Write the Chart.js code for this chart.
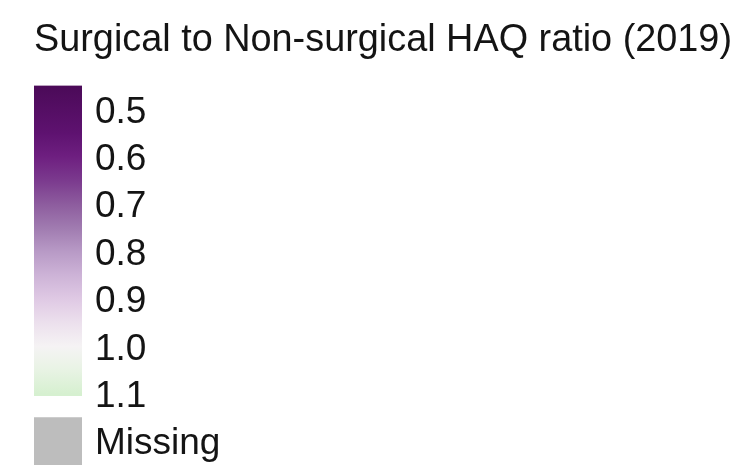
<!DOCTYPE html>
<html>
<head>
<meta charset="utf-8">
<script src="https://cdn.jsdelivr.net/npm/chart.js@4/dist/chart.umd.min.js"></script>
<style>
  html, body { margin: 0; padding: 0; background: #fff; }
  #wrap { width: 732px; height: 475px; }
</style>
</head>
<body>
<div id="wrap"><canvas id="legendChart"></canvas></div>
<script>
// Legend data
const titleText = 'Surgical to Non-surgical HAQ ratio (2019)';
const tickValues = [0.5, 0.6, 0.7, 0.8, 0.9, 1.0, 1.1, 1.2];
const tickLabels = ['0.5', '0.6', '0.7', '0.8', '0.9', '1.0', '1.1', 'Missing'];
const rampRange = [0.45, 1.104];
const missingRange = [1.15, 1.25];
const stopValues = [0.45, 0.55, 0.6, 0.65, 0.7, 0.75, 0.8, 0.85, 0.9, 0.95, 1.0, 1.05, 1.1];
const stopColors = ['#4b0a58', '#5e1270', '#6e1f80', '#7b3a8e', '#8d5c9e', '#a07bb0', '#b89ac6',
                    '#cdb3d7', '#dfc9e4', '#ece0ed', '#f5f3f4', '#e8f3e4', '#d6f0d0'];

function rampFill(context) {
  const chart = context.chart;
  const yScale = chart.scales.y;
  if (!chart.chartArea || !yScale) return stopColors[0];
  const top = yScale.getPixelForValue(rampRange[0]);
  const bottom = yScale.getPixelForValue(rampRange[1]);
  const grad = chart.ctx.createLinearGradient(0, top, 0, bottom);
  stopValues.forEach((v, i) => {
    const t = (v - rampRange[0]) / (rampRange[1] - rampRange[0]);
    grad.addColorStop(Math.min(1, Math.max(0, t)), stopColors[i]);
  });
  return grad;
}

const ctx = document.getElementById('legendChart').getContext('2d');
const legendChart = new Chart(ctx, {
  type: 'bar',
  data: {
    labels: [''],
    datasets: [
      { data: [rampRange], backgroundColor: rampFill, borderWidth: 0 },
      { data: [missingRange], backgroundColor: '#bdbdbd', borderWidth: 0 }
    ]
  },
  options: {
    responsive: true,
    maintainAspectRatio: false,
    animation: false,
    layout: { padding: { left: 34, right: 0, top: 0, bottom: 10 } },
    datasets: { bar: { grouped: false, barPercentage: 1, categoryPercentage: 1 } },
    plugins: {
      legend: { display: false },
      tooltip: { enabled: false },
      title: {
        display: true,
        text: titleText,
        align: 'start',
        color: '#141414',
        font: { family: '"Liberation Sans", Arial, sans-serif', size: 38, weight: 'normal', lineHeight: 1.2 },
        padding: { top: 18, bottom: 22 }
      }
    },
    scales: {
      x: { display: false },
      y: {
        position: 'right',
        reverse: true,
        min: 0.45,
        max: 1.25,
        grid: { display: false, drawTicks: false },
        border: { display: false },
        afterFit: scale => {
          scale.width = 650;
          scale.paddingTop = 0;
          scale.paddingBottom = 0;
        },
        afterBuildTicks: scale => { scale.ticks = tickValues.map(v => ({ value: v })); },
        ticks: {
          padding: 13,
          labelOffset: 3,
          color: '#141414',
          font: { family: '"Liberation Sans", Arial, sans-serif', size: 37 },
          callback: value => tickLabels[tickValues.indexOf(value)]
        }
      }
    }
  }
});
</script>
</body>
</html>
